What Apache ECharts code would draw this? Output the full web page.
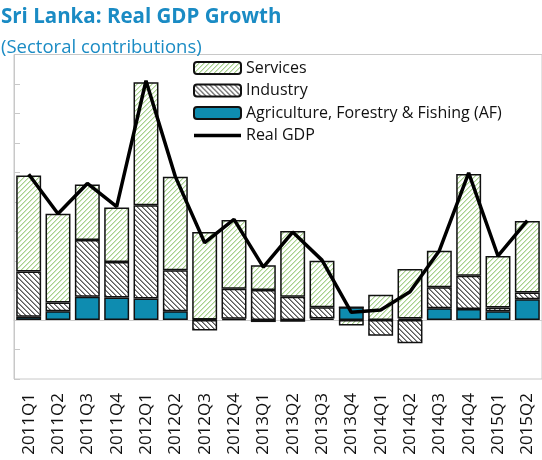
<!DOCTYPE html>
<html>
<head>
<meta charset="utf-8">
<script src="https://cdn.jsdelivr.net/npm/echarts@6/dist/echarts.min.js"></script>
<style>
  html, body { margin: 0; padding: 0; background: #fff; }
  #chart { width: 542px; height: 460px; }
</style>
</head>
<body>
<div id="chart"></div>
<script>
// Quarterly contributions to real GDP growth (percentage points)
const quarters = ['2011Q1','2011Q2','2011Q3','2011Q4','2012Q1','2012Q2','2012Q3','2012Q4','2013Q1',
                  '2013Q2','2013Q3','2013Q4','2014Q1','2014Q2','2014Q3','2014Q4','2015Q1','2015Q2'];
const agriculture = [0.11, 0.30, 0.79, 0.76, 0.73, 0.30, 0.02, 0.04, -0.07,
                     -0.06, 0.05, 0.43, 0.00, 0.05, 0.40, 0.37, 0.30, 0.70];
const industry    = [1.53, 0.29, 1.92, 1.21, 3.16, 1.39, -0.36, 1.02, 1.02,
                     0.79, 0.38, 0.00, -0.53, -0.79, 0.71, 1.13, 0.12, 0.23];
const services    = [3.26, 3.01, 1.88, 1.84, 4.17, 3.17, 2.96, 2.33, 0.84,
                     2.23, 1.58, -0.19, 0.86, 1.68, 1.24, 3.45, 1.75, 2.43];
const realGdp     = [4.94, 3.60, 4.63, 3.84, 8.11, 4.86, 2.62, 3.41, 1.79,
                     2.98, 2.03, 0.26, 0.34, 0.96, 2.35, 4.99, 2.17, 3.37];

// Diagonal hatch fills: dir = 1 for "/" stripes, -1 for "\" stripes
function hatch(dir, stripe, soft) {
  const n = 5;
  const c = document.createElement('canvas');
  c.width = n; c.height = n;
  const ctx = c.getContext('2d');
  ctx.fillStyle = '#ffffff';
  ctx.fillRect(0, 0, n, n);
  for (let y = 0; y < n; y++) {
    for (let x = 0; x < n; x++) {
      const d = (((dir > 0 ? x + y : x - y) % n) + n) % n;
      if (d === 0) { ctx.fillStyle = stripe; ctx.fillRect(x, y, 1, 1); }
      else if (d === 1) { ctx.fillStyle = soft; ctx.fillRect(x, y, 1, 1); }
    }
  }
  return { image: c, repeat: 'repeat' };
}

const servicesFill = hatch(1, '#a8d18e', '#d3e9c5');
const industryFill = hatch(-1, '#5a5a5a', '#9a9a9a');
const afColor = '#0e8cb0';
const titleBlue = '#1a8bc4';
const fontFamily = '"Open Sans", "Noto Sans", sans-serif';

const barBorder = { borderColor: '#111', borderWidth: 1.5 };

const chart = echarts.init(document.getElementById('chart'), null, { renderer: 'canvas' });
chart.setOption({
  animation: false,
  textStyle: { fontFamily: fontFamily },
  title: {
    left: -4, top: 2,
    text: 'Sri Lanka: Real GDP Growth',
    subtext: '(Sectoral contributions)',
    itemGap: 10,
    textStyle: { fontFamily: fontFamily, fontSize: 20.5, fontWeight: 'bold', color: titleBlue },
    subtextStyle: { fontFamily: fontFamily, fontSize: 18.5, color: titleBlue }
  },
  legend: {
    orient: 'vertical',
    left: 188, top: 55,
    itemWidth: 47, itemHeight: 12, itemGap: 6.5,
    textStyle: { fontFamily: fontFamily, fontSize: 16, lineHeight: 16, color: '#111' },
    data: ['Services', 'Industry', 'Agriculture, Forestry & Fishing (AF)',
           { name: 'Real GDP', icon: 'path://M0,0H47V3.5H0Z' }]
  },
  grid: {
    left: 14, right: -1, top: 54.5, bottom: 81,
    show: true, borderColor: '#c8c8c8', borderWidth: 1
  },
  xAxis: [{
    type: 'category',
    data: quarters,
    position: 'bottom',
    axisLine: { show: false, onZero: false },
    axisTick: { show: false },
    axisLabel: { rotate: 90, margin: 14, fontSize: 17, color: '#111', fontFamily: fontFamily }
  }, {
    type: 'category',
    data: quarters,
    position: 'top',
    axisLine: { show: true, onZero: true, lineStyle: { color: '#cccccc', width: 1 } },
    axisTick: { show: false },
    axisLabel: { show: false }
  }],
  yAxis: {
    type: 'value',
    min: -2, max: 9, interval: 1,
    axisLine: { show: true, lineStyle: { color: '#c8c8c8' } },
    axisTick: { show: true, inside: true, length: 6, lineStyle: { color: '#c8c8c8' } },
    axisLabel: { show: false },
    splitLine: { show: false }
  },
  series: [{
    name: 'Agriculture, Forestry & Fishing (AF)',
    type: 'bar', stack: 'sectors', barWidth: '85%',
    itemStyle: Object.assign({ color: afColor }, barBorder),
    data: agriculture
  }, {
    name: 'Industry',
    type: 'bar', stack: 'sectors',
    itemStyle: Object.assign({ color: industryFill }, barBorder),
    data: industry
  }, {
    name: 'Services',
    type: 'bar', stack: 'sectors',
    itemStyle: Object.assign({ color: servicesFill }, barBorder),
    data: services
  }, {
    name: 'Real GDP',
    type: 'line',
    symbol: 'none',
    z: 5,
    lineStyle: { color: '#000', width: 3.5 },
    itemStyle: { color: '#000' },
    data: realGdp
  }]
});
</script>
</body>
</html>
